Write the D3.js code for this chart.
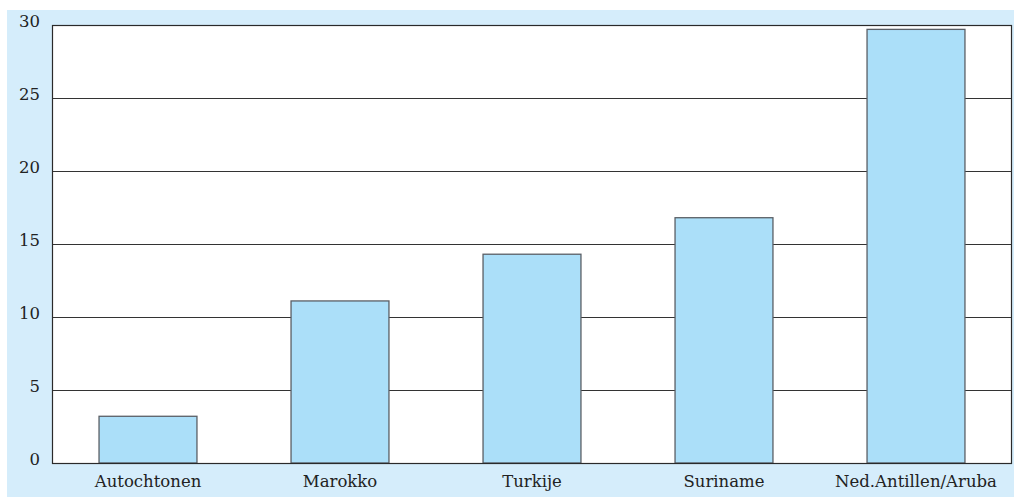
<!DOCTYPE html>
<meta charset="utf-8">
<script src="https://d3js.org/d3.v7.min.js"></script>
<style>
  body { margin: 0; background: #fff; }
  text { font-family: "DejaVu Serif", serif; fill: #222; }
</style>
<div id="my_dataviz"></div>
<script>
  // data
  var categories = ["Autochtonen", "Marokko", "Turkije", "Suriname", "Ned.Antillen/Aruba"];
  var values = [3.2, 11.1, 14.3, 16.8, 29.7];
  var yTicks = [0, 5, 10, 15, 20, 25, 30];

  var W = 1014, H = 497;
  var margin = { top: 25, right: 2, bottom: 34, left: 52 };
  var width = W - margin.left - margin.right,
      height = H - margin.top - margin.bottom;

  var root = d3.select("#my_dataviz").append("svg")
      .attr("width", W).attr("height", H);

  // light blue panel
  root.append("rect")
      .attr("x", 7).attr("y", 10)
      .attr("width", W - 7).attr("height", H - 10)
      .attr("fill", "#d5edfb");

  var svg = root.append("g")
      .attr("transform", "translate(" + margin.left + "," + margin.top + ")");

  var x = d3.scaleBand()
      .domain(categories)
      .range([0, width])
      .paddingInner(0.49)
      .paddingOuter(0.245);

  var y = d3.scaleLinear()
      .domain([0, 30])
      .range([height, 0]);

  // plot area
  svg.append("rect")
      .attr("width", width).attr("height", height)
      .attr("fill", "#fff");

  // gridlines
  svg.selectAll(".grid")
      .data(yTicks.filter(function (d) { return d > 0 && d < 30; }))
      .enter().append("line")
      .attr("x1", 0).attr("x2", width)
      .attr("y1", function (d) { return y(d) + 0.5; })
      .attr("y2", function (d) { return y(d) + 0.5; })
      .attr("stroke", "#333").attr("stroke-width", 1);

  // bars
  svg.selectAll(".bar")
      .data(values)
      .enter().append("rect")
      .attr("x", function (d, i) { return x(categories[i]); })
      .attr("y", function (d) { return y(d); })
      .attr("width", x.bandwidth())
      .attr("height", function (d) { return height - y(d); })
      .attr("fill", "#abdff9")
      .attr("stroke", "#5a5f66")
      .attr("stroke-width", 1.3);

  // frame round the plot
  svg.append("rect")
      .attr("x", 0.5).attr("y", 0.5)
      .attr("width", width - 1).attr("height", height)
      .attr("fill", "none")
      .attr("stroke", "#2a2a2a").attr("stroke-width", 1.2);

  // y axis labels
  var yAxis = svg.append("g")
      .call(d3.axisLeft(y).tickValues(yTicks).tickSize(0).tickPadding(12));
  yAxis.select(".domain").remove();
  yAxis.selectAll("text")
      .style("font-family", "DejaVu Serif, serif")
      .style("font-size", "16.5px")
      .attr("fill", "#222")
      .attr("dy", "0.1em");

  // x axis labels
  var xAxis = svg.append("g")
      .attr("transform", "translate(0," + height + ")")
      .call(d3.axisBottom(x).tickSize(0).tickPadding(12));
  xAxis.select(".domain").remove();
  xAxis.selectAll("text")
      .style("font-family", "DejaVu Serif, serif")
      .style("font-size", "16.5px")
      .attr("fill", "#222");
</script>
